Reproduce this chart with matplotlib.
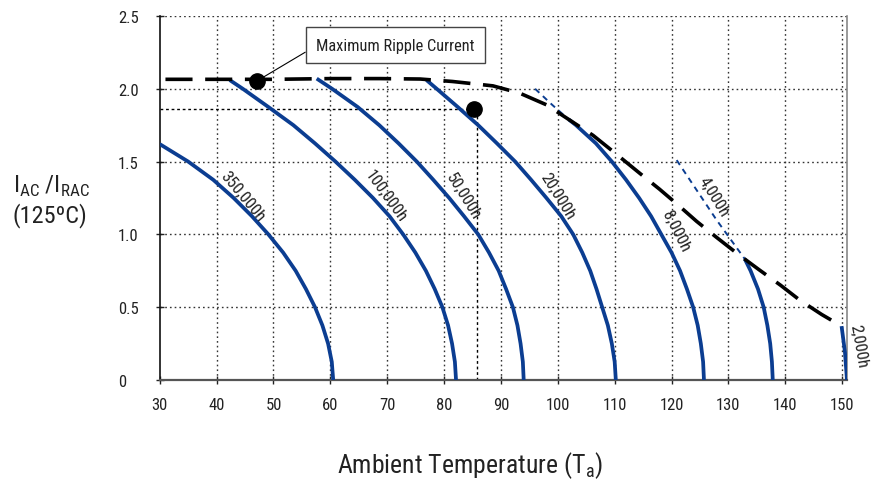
import os
import matplotlib
matplotlib.use('Agg')
import matplotlib.pyplot as plt
from matplotlib import font_manager

# look for a narrow sans face (reference uses Arial Narrow-like type)
prio = ['liberationsansnarrow', 'arialn', 'robotocondensed', 'dejavusanscondensed',
        'notosans-condensed', 'notosanscondensed', 'opensans-condensed', 'opensanscondensed']
found = {}
for f in font_manager.fontManager.ttflist:
    fn = os.path.basename(f.fname).lower().replace('_', '')
    if 'bold' in fn or 'italic' in fn or 'oblique' in fn or 'light' in fn:
        continue
    for p in prio:
        if fn.startswith(p) and p not in found:
            found[p] = f
fam, stretch = 'Liberation Sans', 'normal'
for p in prio:
    if p in found:
        fam, stretch = found[p].name, found[p].stretch
        break
plt.rcParams['font.family'] = [fam, 'DejaVu Sans']
plt.rcParams['font.stretch'] = stretch
plt.rcParams['mathtext.fontset'] = 'custom'
plt.rcParams['mathtext.rm'] = fam

# life curves (ambient temp, I_AC/I_RAC)
t_350k = [30, 35.0, 39.4, 43.0, 46.2, 49.1, 51.7, 53.9, 55.7, 57.3, 58.6, 59.6, 60.25, 60.5]
r_350k = [1.62, 1.5, 1.375, 1.25, 1.125, 1.0, 0.875, 0.75, 0.625, 0.5, 0.375, 0.25, 0.125, 0.0]
t_100k = [42.3, 44.6, 49.1, 53.5, 57.3, 60.9, 64.3, 67.5, 70.4, 72.8, 74.95, 76.8, 78.35,
          79.7, 80.7, 81.4, 81.9, 82.1]
r_100k = [2.06, 2.0, 1.875, 1.75, 1.625, 1.5, 1.375, 1.25, 1.125, 1.0, 0.875, 0.75, 0.625,
          0.5, 0.375, 0.25, 0.125, 0.0]
t_50k = [57.6, 60.3, 64.8, 68.6, 72.0, 75.2, 78.1, 80.9, 83.5, 86.0, 87.9, 89.6, 90.9,
         92.1, 92.9, 93.45, 93.85, 94.0]
r_50k = [2.07, 2.0, 1.875, 1.75, 1.625, 1.5, 1.375, 1.25, 1.125, 1.0, 0.875, 0.75, 0.625,
         0.5, 0.375, 0.25, 0.125, 0.0]
t_20k = [76.9, 78.7, 82.4, 86.0, 89.3, 92.5, 95.3, 98.0, 100.6, 102.7, 104.3, 105.7, 106.8,
         107.8, 108.8, 109.5, 110.0, 110.2]
r_20k = [2.06, 2.0, 1.875, 1.75, 1.625, 1.5, 1.375, 1.25, 1.125, 1.0, 0.875, 0.75, 0.625,
         0.5, 0.375, 0.25, 0.125, 0.0]
t_8k_ext = [96.0, 99.0, 101.9]
r_8k_ext = [2.0, 1.89, 1.79]
t_8k = [101.9, 103.2, 106.7, 109.5, 112.0, 114.3, 116.4, 118.2, 120.0, 121.5, 122.7,
        123.8, 124.6, 125.15, 125.55, 125.7]
r_8k = [1.79, 1.75, 1.625, 1.5, 1.375, 1.25, 1.125, 1.0, 0.875, 0.75, 0.625,
        0.5, 0.375, 0.25, 0.125, 0.0]
t_4k_ext = [120.9, 127.9, 132.9]
r_4k_ext = [1.51, 1.10, 0.83]
t_4k = [132.9, 133.9, 135.2, 136.2, 136.85, 137.35, 137.65, 137.8]
r_4k = [0.83, 0.75, 0.625, 0.5, 0.375, 0.25, 0.125, 0.0]
t_2k = [149.9, 150.5, 150.85]
r_2k = [0.37, 0.19, 0.0]

# maximum ripple current limit
t_max = [31, 40, 50, 60, 68.7, 75.8, 81.5, 88.6, 93.3, 98.0, 101.5, 106.2, 109.7,
         114.4, 117.9, 121.2, 124.4, 127.9, 131.5, 135.3, 139.2, 142.5, 146.4, 149.9]
r_max = [2.065, 2.065, 2.065, 2.07, 2.07, 2.067, 2.05, 2.02, 1.97, 1.89, 1.80, 1.68, 1.57,
         1.42, 1.31, 1.20, 1.09, 0.98, 0.87, 0.76, 0.65, 0.55, 0.45, 0.37]

dot_t = [47.1, 85.3]
dot_r = [2.054, 1.861]

labels = ['350,000h', '100,000h', '50,000h', '20,000h', '8,000h', '4,000h', '2,000h']
label_t = [44.6, 69.8, 83.3, 100.0, 120.8, 127.4, 152.9]
label_r = [1.266, 1.266, 1.266, 1.266, 1.025, 1.266, 0.236]
label_rot = [-50, -54, -58, -58, -63, -58, -80]

xticks = [30, 40, 50, 60, 70, 80, 90, 100, 110, 120, 130, 140, 150]
yticks = [0, 0.5, 1.0, 1.5, 2.0, 2.5]
yticklabels = ['0', '0.5', '1.0', '1.5', '2.0', '2.5']

blue = '#0b3d91'

fig = plt.figure(figsize=(8.74, 4.81), dpi=100)
ax = fig.add_axes([0.1828, 0.2079, 0.9694 - 0.1828, 0.9647 - 0.2079])

# grid
for x in xticks[1:]:
    ax.axvline(x, color='#333333', lw=1, ls=(0, (1.2, 2.2)), zorder=1)
for y in yticks[1:]:
    ax.axhline(y, color='#333333', lw=1, ls=(0, (1.2, 2.2)), zorder=1)

# guide lines to the 85C point
ax.plot([30, 85.3], [1.861, 1.861], color='black', lw=1, ls=(0, (2, 2)), zorder=2)
ax.plot([85.7, 85.7], [0, 1.861], color='black', lw=1, ls=(0, (2, 2)), zorder=2)

for t, r in [(t_350k, r_350k), (t_100k, r_100k), (t_50k, r_50k), (t_20k, r_20k),
             (t_8k, r_8k), (t_4k, r_4k), (t_2k, r_2k)]:
    ax.plot(t, r, color=blue, lw=2.7, zorder=3, solid_capstyle='butt', solid_joinstyle='round')
for t, r in [(t_8k_ext, r_8k_ext), (t_4k_ext, r_4k_ext)]:
    ax.plot(t, r, color=blue, lw=1.4, ls=(0, (3, 2.5)), zorder=3)

ax.plot(t_max, r_max, color='black', lw=2.6, dashes=(7.5, 3.5), zorder=4)
ax.plot(dot_t, dot_r, 'o', color='black', ms=11, zorder=5)

ax.annotate('Maximum Ripple Current', xy=(dot_t[0], dot_r[0]), xytext=(71.4, 2.30),
            ha='center', va='center', fontsize=11.8, color='#222222',
            bbox=dict(boxstyle='square,pad=0.62', fc='white', ec='#444444', lw=1),
            arrowprops=dict(arrowstyle='-', color='black', lw=0.8, relpos=(0, 0.45),
                            shrinkA=0, shrinkB=0), zorder=6)

for s, x, y, rot in zip(labels, label_t, label_r, label_rot):
    ax.text(x, y, s, rotation=rot, ha='center', va='center', fontsize=12,
            color='#222222', rotation_mode='anchor', zorder=6)

ax.set_xlim(30, 150.9)
ax.set_ylim(0, 2.5)
ax.set_xticks(xticks)
ax.set_yticks(yticks)
ax.set_yticklabels(yticklabels, ha='left')
ax.tick_params(axis='both', direction='inout', length=6, width=1, colors='#222222',
               labelsize=12)
ax.tick_params(axis='x', pad=9)
ax.tick_params(axis='y', pad=27)
ax.spines['top'].set_visible(False)
ax.spines['left'].set_color('#111111')
ax.spines['left'].set_linewidth(1.2)
ax.spines['bottom'].set_color('#555555')
ax.spines['bottom'].set_linewidth(1.6)
ax.spines['right'].set_color('#888888')
ax.spines['right'].set_linewidth(1.2)

fig.text(13 / 874, 1 - 186 / 481, r'I$_\mathregular{AC}$ /I$_\mathregular{RAC}$',
         fontsize=17.5, ha='left', va='center', color='#222222')
fig.text(13 / 874, 1 - 216 / 481, '(125ºC)', fontsize=17.5, ha='left', va='center',
         color='#222222')
fig.text(470 / 874, 1 - 466 / 481, r'Ambient Temperature (T$_\mathregular{a}$)',
         fontsize=18.5, ha='center', va='center', color='#222222')

fig.savefig('out.png', dpi=100)
